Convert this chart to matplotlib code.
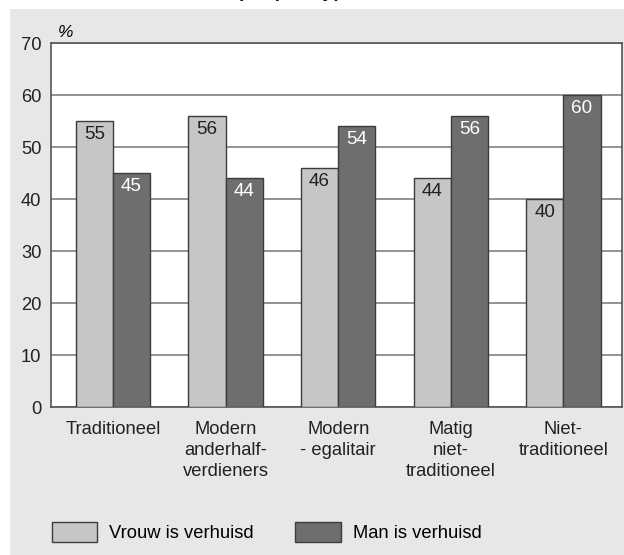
import matplotlib
matplotlib.use("Agg")
import matplotlib.pyplot as plt
from matplotlib.patches import Rectangle
import numpy as np

# data
categories = ["Traditioneel", "Modern\nanderhalf-\nverdieners", "Modern\n- egalitair",
              "Matig\nniet-\ntraditioneel", "Niet-\ntraditioneel"]
vrouw = [55, 56, 46, 44, 40]
man = [45, 44, 54, 56, 60]
series_names = ["Vrouw is verhuisd", "Man is verhuisd"]
yticks = [0, 10, 20, 30, 40, 50, 60, 70]

light = "#c6c6c6"
dark = "#6e6e6e"
edge = "#3c3c3c"
panel = "#e6e7e8"

plt.rcParams["font.family"] = ["Liberation Sans", "DejaVu Sans"]
plt.rcParams["font.size"] = 13.2

W, H = 624, 555
fig = plt.figure(figsize=(W / 100, H / 100), dpi=100, facecolor="white")

# cut-off title at the very top (only the descenders show)
fig.text(239 / W, 1 + 3 / H, "per paartype", ha="left", va="baseline",
         fontsize=14, fontweight="bold", color="#111111", zorder=0)

# grey background panel
fig.add_artist(Rectangle((10 / W, 0), 1 - 10 / W, 1 - 9 / H, transform=fig.transFigure,
                         facecolor=panel, edgecolor="none", zorder=1))

ax = fig.add_axes([51 / W, 1 - 407 / H, (622 - 51) / W, (407 - 43) / H], zorder=2)
ax.set_facecolor("white")

x = np.arange(len(categories))
w = 0.33
b1 = ax.bar(x - w / 2, vrouw, w, color=light, edgecolor=edge, linewidth=1.0,
            label=series_names[0], zorder=3)
b2 = ax.bar(x + w / 2, man, w, color=dark, edgecolor=edge, linewidth=1.0,
            label=series_names[1], zorder=3)

for xi, v in zip(x - w / 2, vrouw):
    ax.text(xi, v - 1.0, str(v), ha="center", va="top", color="#222222",
            fontsize=13.6, zorder=4)
for xi, v in zip(x + w / 2, man):
    ax.text(xi, v - 1.0, str(v), ha="center", va="top", color="white",
            fontsize=13.6, zorder=4)

ax.set_xlim(-0.55, 4.52)
ax.set_ylim(0, 70)
ax.set_yticks(yticks)
ax.yaxis.grid(True, color="#808080", linewidth=1.2, zorder=0)
ax.set_axisbelow(True)
ax.tick_params(axis="y", length=0, pad=7, colors="#222222")
ax.set_xticks(x)
ax.set_xticklabels(categories, linespacing=1.3)
ax.tick_params(axis="x", length=0, pad=10, colors="#222222")
for s in ax.spines.values():
    s.set_color("#555555")
    s.set_linewidth(1.2)

ax.text(0.011, 1.008, "%", transform=ax.transAxes, ha="left", va="bottom",
        fontstyle="italic", fontsize=12.5)

fig.legend(handles=[b1, b2], labels=series_names, loc="center left",
           bbox_to_anchor=(35 / W, 1 - 532 / H), ncol=2, frameon=False,
           handlelength=2.5, handleheight=1.3, handletextpad=0.65,
           columnspacing=2.25, fontsize=13.2)

fig.savefig("out.png", dpi=100, facecolor="white")
